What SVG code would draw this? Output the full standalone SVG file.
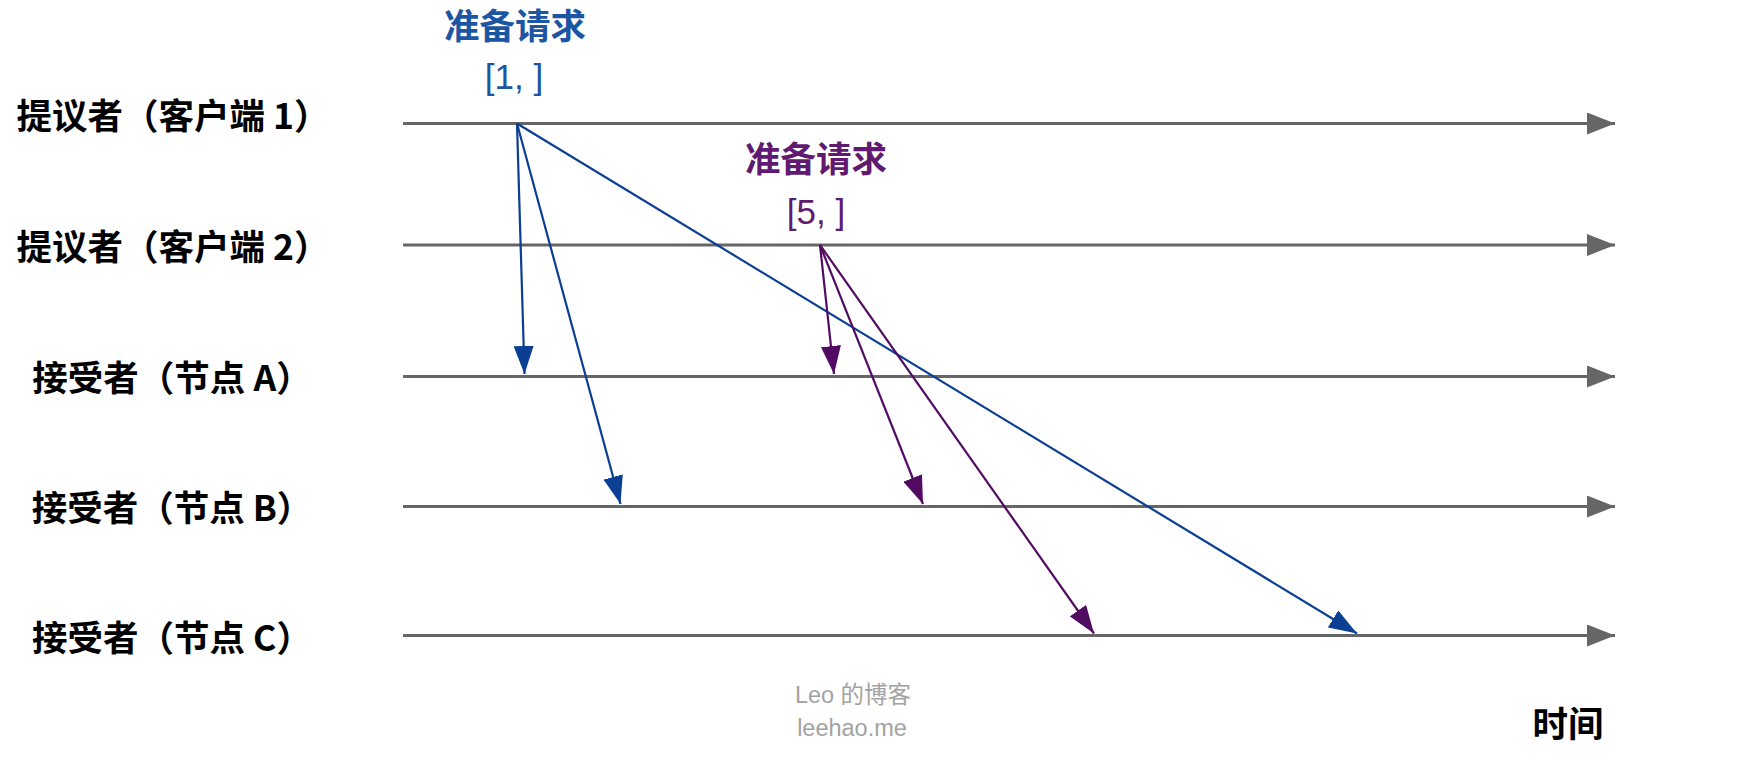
<svg xmlns="http://www.w3.org/2000/svg" width="1746" height="765" viewBox="0 0 1746 765">
<style>
.lbl{font-family:"Noto Sans CJK SC","Liberation Sans",sans-serif;font-size:35.5px;font-weight:700;fill:#000;text-anchor:middle}
.tl{stroke:#666;stroke-width:3;fill:none}
.title{font-family:"Noto Sans CJK SC","Liberation Sans",sans-serif;font-size:35.5px;font-weight:700;text-anchor:middle}
.rng{font-family:"Liberation Sans","Noto Sans CJK SC",sans-serif;font-size:35px;text-anchor:middle}
.blue{fill:#1c56a3}
.purple{fill:#611a70}
.cb{stroke:#0a3f94;stroke-width:2.2;fill:none}
.cp{stroke:#520b62;stroke-width:2.2;fill:none}
.wm{font-family:"Liberation Sans","Noto Sans CJK SC",sans-serif;font-size:23.5px;fill:#a3a3a3;text-anchor:middle}
</style>
<defs>
<marker id="mt" markerUnits="userSpaceOnUse" markerWidth="28" markerHeight="22" refX="28" refY="11" orient="auto"><path d="M0,0 L28,11 L0,22 z" fill="#666"/></marker>
<marker id="mb" markerUnits="userSpaceOnUse" markerWidth="28" markerHeight="20" refX="28" refY="10" orient="auto"><path d="M0,0 L28,10 L0,20 z" fill="#0a3f94"/></marker>
<marker id="mp" markerUnits="userSpaceOnUse" markerWidth="28" markerHeight="20" refX="28" refY="10" orient="auto"><path d="M0,0 L28,10 L0,20 z" fill="#520b62"/></marker>
</defs>
<rect width="1746" height="765" fill="#fff"/>
<g id="proposer1">
<text class="lbl" x="173" y="129">提议者（客户端 1）</text>
<line class="tl" x1="403" y1="123.5" x2="1615" y2="123.5" marker-end="url(#mt)"/>
</g>
<g id="proposer2">
<text class="lbl" x="173" y="260">提议者（客户端 2）</text>
<line class="tl" x1="403" y1="245" x2="1615" y2="245" marker-end="url(#mt)"/>
</g>
<g id="acceptorA">
<text class="lbl" x="172" y="391">接受者（节点 A）</text>
<line class="tl" x1="403" y1="376.5" x2="1615" y2="376.5" marker-end="url(#mt)"/>
</g>
<g id="acceptorB">
<text class="lbl" x="172" y="521">接受者（节点 B）</text>
<line class="tl" x1="403" y1="506.5" x2="1615" y2="506.5" marker-end="url(#mt)"/>
</g>
<g id="acceptorC">
<text class="lbl" x="172" y="651">接受者（节点 C）</text>
<line class="tl" x1="403" y1="635.5" x2="1615" y2="635.5" marker-end="url(#mt)"/>
</g>
<g id="prepare1">
<text class="title blue" x="515" y="39">准备请求</text>
<text class="rng blue" x="514" y="89">[1, ]</text>
</g>
<g id="prepare5">
<text class="title purple" x="816" y="172">准备请求</text>
<text class="rng purple" x="816" y="224" font-size="37">[5, ]</text>
</g>
<g id="connectors">
<line class="cb" x1="517" y1="123.5" x2="524.5" y2="374" marker-end="url(#mb)"/>
<line class="cb" x1="517" y1="123.5" x2="620.5" y2="504" marker-end="url(#mb)"/>
<line class="cb" x1="517" y1="123.5" x2="1357" y2="633.5" marker-end="url(#mb)"/>
<line class="cp" x1="820" y1="245" x2="834" y2="374" marker-end="url(#mp)"/>
<line class="cp" x1="820" y1="245" x2="923" y2="504" marker-end="url(#mp)"/>
<line class="cp" x1="820" y1="245" x2="1094" y2="633.5" marker-end="url(#mp)"/>
</g>
<g id="watermark">
<text class="wm" x="853" y="703">Leo 的博客</text>
<text class="wm" x="852" y="736">leehao.me</text>
</g>
<g id="time">
<text class="title" x="1568" y="737" fill="#000">时间</text>
</g>
</svg>
